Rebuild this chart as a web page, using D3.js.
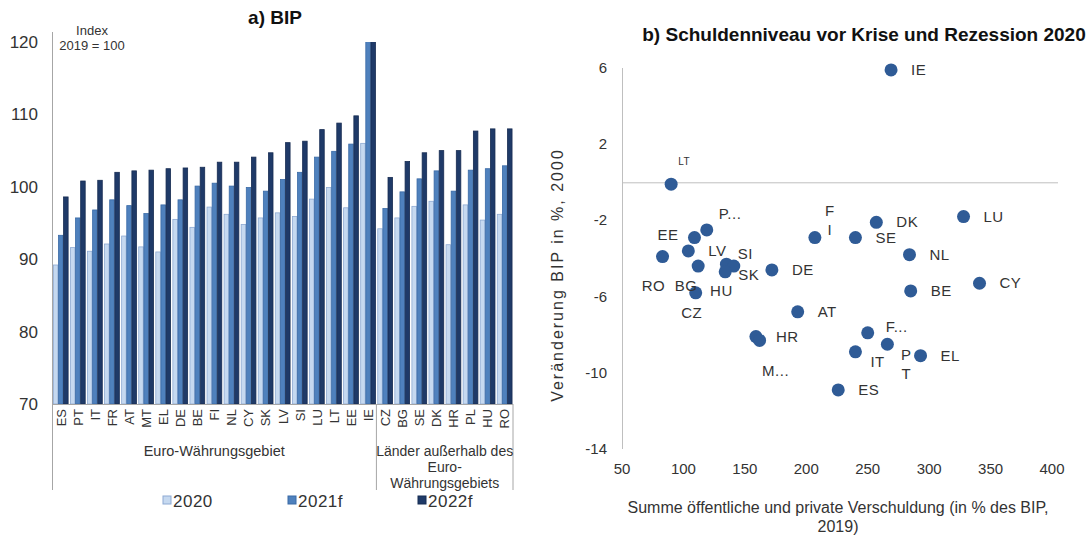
<!DOCTYPE html>
<html>
<head>
<meta charset="utf-8">
<script src="https://cdn.jsdelivr.net/npm/d3@7"></script>
<style>
  body { margin: 0; background: #fff; }
  svg { font-family: "Liberation Sans", Arial, sans-serif; }
</style>
</head>
<body>
<svg id="chart" width="1088" height="537"></svg>
<script>
// ---- Data: a) BIP (Index 2019 = 100)
var countries = ["ES","PT","IT","FR","AT","MT","EL","DE","BE","FI","NL","CY","SK","LV","SI","LU","LT","EE","IE",
                 "CZ","BG","SE","DK","HR","PL","HU","RO"];
var bip2020  = [89.2, 91.6, 91.1, 92.1, 93.2, 91.7, 91.0, 95.5, 94.4, 97.2, 96.2, 94.8, 95.7, 96.4, 95.9, 98.3, 99.9, 97.1, 106.0,
                94.2, 95.7, 97.3, 98.0, 92.0, 97.5, 95.4, 96.2];
var bip2021  = [93.3, 95.7, 96.8, 98.2, 97.4, 96.3, 97.5, 98.2, 100.1, 100.5, 100.1, 99.9, 99.4, 101.0, 102.0, 104.1, 104.9, 105.9, 121.0,
                97.0, 99.3, 101.1, 102.2, 99.4, 102.3, 102.5, 102.9];
var bip2022  = [98.6, 100.8, 100.9, 102.0, 102.2, 102.3, 102.5, 102.6, 102.7, 103.4, 103.4, 104.1, 104.7, 106.1, 106.3, 107.9, 108.8, 109.8, 124.0,
                101.3, 103.5, 104.7, 105.0, 105.0, 107.7, 108.0, 108.0];
var seriesNames = ["2020", "2021f", "2022f"];
var yTicksA = [70, 80, 90, 100, 110, 120];
var euroCount = 19;

// ---- Data: b) Schuldenniveau vor Krise und Rezession 2020
var scLabels = ["IE","LT","P...","EE","DK","SE","F\nI","LU","NL","LV","RO","BG","HU","SI","SK","DE","CZ",
                "CY","BE","AT","F...","P\nT","IT","EL","ES","HR","M..."];
var scDebt   = [269, 90, 119, 109, 257, 240, 207, 328, 284, 104, 83, 112, 135, 141, 134, 172, 110,
                341, 285, 193, 250, 266, 240, 293, 226, 159, 162];
var scGdp    = [5.9, -0.1, -2.5, -2.9, -2.1, -2.9, -2.9, -1.8, -3.8, -3.6, -3.9, -4.4, -4.3, -4.4, -4.7, -4.6, -5.8,
                -5.3, -5.7, -6.8, -7.9, -8.5, -8.9, -9.1, -10.9, -8.1, -8.3];
var xTicksB = [50, 100, 150, 200, 250, 300, 350, 400];
var yTicksB = [-14, -10, -6, -2, 2, 6];

var svg = d3.select("#chart");
var txt = "#333";

// ================= a) BIP =================
var colorsA = ["#c6d9f0", "#4f81bd", "#1f3a68"];
var strokesA = ["#8eaad3", "#3a6aa6", "#172c52"];

var xA = d3.scaleBand().domain(countries).range([52, 513]).paddingInner(0.1).paddingOuter(0.05);
var xInner = d3.scaleBand().domain([0, 1, 2]).range([0, xA.bandwidth()]);
var yA = d3.scaleLinear().domain([70, 120]).range([404, 42]);

svg.append("defs").append("clipPath").attr("id", "clipA")
  .append("rect").attr("x", 52).attr("y", 42).attr("width", 461).attr("height", 362);

svg.append("text").attr("x", 275).attr("y", 24).attr("text-anchor", "middle")
  .attr("font-size", 19).attr("font-weight", "bold").attr("fill", "#111").text("a) BIP");

svg.append("text").attr("x", 92).attr("y", 35).attr("text-anchor", "middle")
  .attr("font-size", 13).attr("fill", txt).text("Index");
svg.append("text").attr("x", 92).attr("y", 50).attr("text-anchor", "middle")
  .attr("font-size", 13).attr("fill", txt).text("2019 = 100");

var gA = svg.append("g");
gA.selectAll(".ytick").data(yTicksA).enter().append("text")
  .attr("x", 38).attr("y", function(d){ return yA(d) + 6; })
  .attr("text-anchor", "end").attr("font-size", 17).attr("fill", txt)
  .text(function(d){ return d; });

var seriesA = [bip2020, bip2021, bip2022];
var bars = gA.append("g").attr("clip-path", "url(#clipA)");
seriesA.forEach(function(vals, s) {
  bars.selectAll(".b" + s).data(vals).enter().append("rect")
    .attr("x", function(d, i){ return xA(countries[i]) + xInner(s) + 0.5; })
    .attr("y", function(d){ return yA(d); })
    .attr("width", xInner.bandwidth() - 0.6)
    .attr("height", function(d){ return yA(70) - yA(d); })
    .attr("fill", colorsA[s]).attr("stroke", strokesA[s]).attr("stroke-width", 0.8);
});

// axes lines
gA.append("line").attr("x1", 52.5).attr("x2", 52.5).attr("y1", 32).attr("y2", 490)
  .attr("stroke", "#a6a6a6");
gA.append("line").attr("x1", 52).attr("x2", 513).attr("y1", 404.5).attr("y2", 404.5)
  .attr("stroke", "#a6a6a6");
var sepX = xA(countries[euroCount]) - xA.step() * xA.paddingInner() / 2;
gA.append("line").attr("x1", sepX).attr("x2", sepX).attr("y1", 404).attr("y2", 490).attr("stroke", "#a6a6a6");
gA.append("line").attr("x1", 513).attr("x2", 513).attr("y1", 404).attr("y2", 490).attr("stroke", "#a6a6a6");

// category labels (rotated)
gA.selectAll(".xlab").data(countries).enter().append("text")
  .attr("transform", function(d){
    return "translate(" + (xA(d) + xA.bandwidth() / 2 + 5) + ",409) rotate(-90)";
  })
  .attr("text-anchor", "end").attr("font-size", 13).attr("fill", txt)
  .text(function(d){ return d; });

gA.append("text").attr("x", (52 + sepX) / 2).attr("y", 456).attr("text-anchor", "middle")
  .attr("font-size", 14.5).attr("fill", txt).text("Euro-Währungsgebiet");
var grp2 = ["Länder außerhalb des", "Euro-", "Währungsgebiets"];
gA.selectAll(".g2").data(grp2).enter().append("text")
  .attr("x", (sepX + 513) / 2).attr("y", function(d, i){ return 456 + i * 16; })
  .attr("text-anchor", "middle").attr("font-size", 14).attr("fill", txt)
  .text(function(d){ return d; });

// legend
var legX = [163, 288, 418];
seriesNames.forEach(function(n, i) {
  gA.append("rect").attr("x", legX[i]).attr("y", 496).attr("width", 8).attr("height", 8)
    .attr("fill", colorsA[i]).attr("stroke", strokesA[i]);
  gA.append("text").attr("x", legX[i] + 10).attr("y", 507).attr("font-size", 17)
    .attr("letter-spacing", 0.5).attr("fill", txt).text(n);
});

// ================= b) Scatter =================
var xB = d3.scaleLinear().domain([50, 400]).range([622, 1052]);
var yB = d3.scaleLinear().domain([-14, 6]).range([449, 68]);
var gB = svg.append("g");

gB.append("text").attr("x", 864).attr("y", 41).attr("text-anchor", "middle")
  .attr("font-size", 19).attr("font-weight", "bold").attr("fill", "#111")
  .text("b) Schuldenniveau vor Krise und Rezession 2020");

gB.append("line").attr("x1", 622.5).attr("x2", 622.5).attr("y1", yB(6)).attr("y2", yB(-14))
  .attr("stroke", "#bfbfbf");
gB.append("line").attr("x1", 622).attr("x2", 1058).attr("y1", yB(0) + 0.5).attr("y2", yB(0) + 0.5)
  .attr("stroke", "#bfbfbf");

gB.selectAll(".yt").data(yTicksB).enter().append("text")
  .attr("x", 607).attr("y", function(d){ return yB(d) + 5; })
  .attr("text-anchor", "end").attr("font-size", 15).attr("fill", txt)
  .text(function(d){ return d; });
gB.selectAll(".xt").data(xTicksB).enter().append("text")
  .attr("x", function(d){ return xB(d); }).attr("y", 474)
  .attr("text-anchor", "middle").attr("font-size", 15).attr("fill", txt)
  .text(function(d){ return d; });

gB.append("text").attr("transform", "translate(563,275) rotate(-90)")
  .attr("text-anchor", "middle").attr("font-size", 16).attr("letter-spacing", 2).attr("fill", txt)
  .text("Veränderung BIP in %, 2000");
gB.append("text").attr("x", 838).attr("y", 513).attr("text-anchor", "middle")
  .attr("font-size", 16).attr("fill", txt)
  .text("Summe öffentliche und private Verschuldung (in % des BIP,");
gB.append("text").attr("x", 838).attr("y", 532).attr("text-anchor", "middle")
  .attr("font-size", 16).attr("fill", txt).text("2019)");

gB.selectAll(".dot").data(scDebt).enter().append("circle")
  .attr("cx", function(d){ return xB(d); })
  .attr("cy", function(d, i){ return yB(scGdp[i]); })
  .attr("r", 6.5).attr("fill", "#2f5b96");

// label placement: [dx, dy, anchor]
var place = {
  "LT": [13, -24, "middle"], "P...": [12, -16, "start"], "EE": [-16, -3, "end"],
  "F\nI": [15, -27, "middle"], "RO": [-9, 29, "middle"], "BG": [-12, 20, "middle"],
  "HU": [-5, 27, "middle"], "SI": [4, -12, "start"], "SK": [13, 3, "start"], "CZ": [-4, 20, "middle"],
  "F...": [18, -6, "start"], "P\nT": [19, 11, "middle"], "IT": [15, 10, "start"],
  "M...": [16, 31, "middle"]
};
scLabels.forEach(function(lab, i) {
  var p = place[lab] || [20, 0, "start"];
  var lines = lab.split("\n");
  var t = gB.append("text")
    .attr("x", xB(scDebt[i]) + p[0])
    .attr("y", yB(scGdp[i]) + p[1] + 5)
    .attr("text-anchor", p[2]).attr("letter-spacing", 0.5)
    .attr("font-size", lab === "LT" ? 10 : 15).attr("fill", txt);
  lines.forEach(function(l, k) {
    t.append("tspan").attr("x", xB(scDebt[i]) + p[0]).attr("dy", k === 0 ? 0 : 19).text(l);
  });
});
</script>
</body>
</html>
